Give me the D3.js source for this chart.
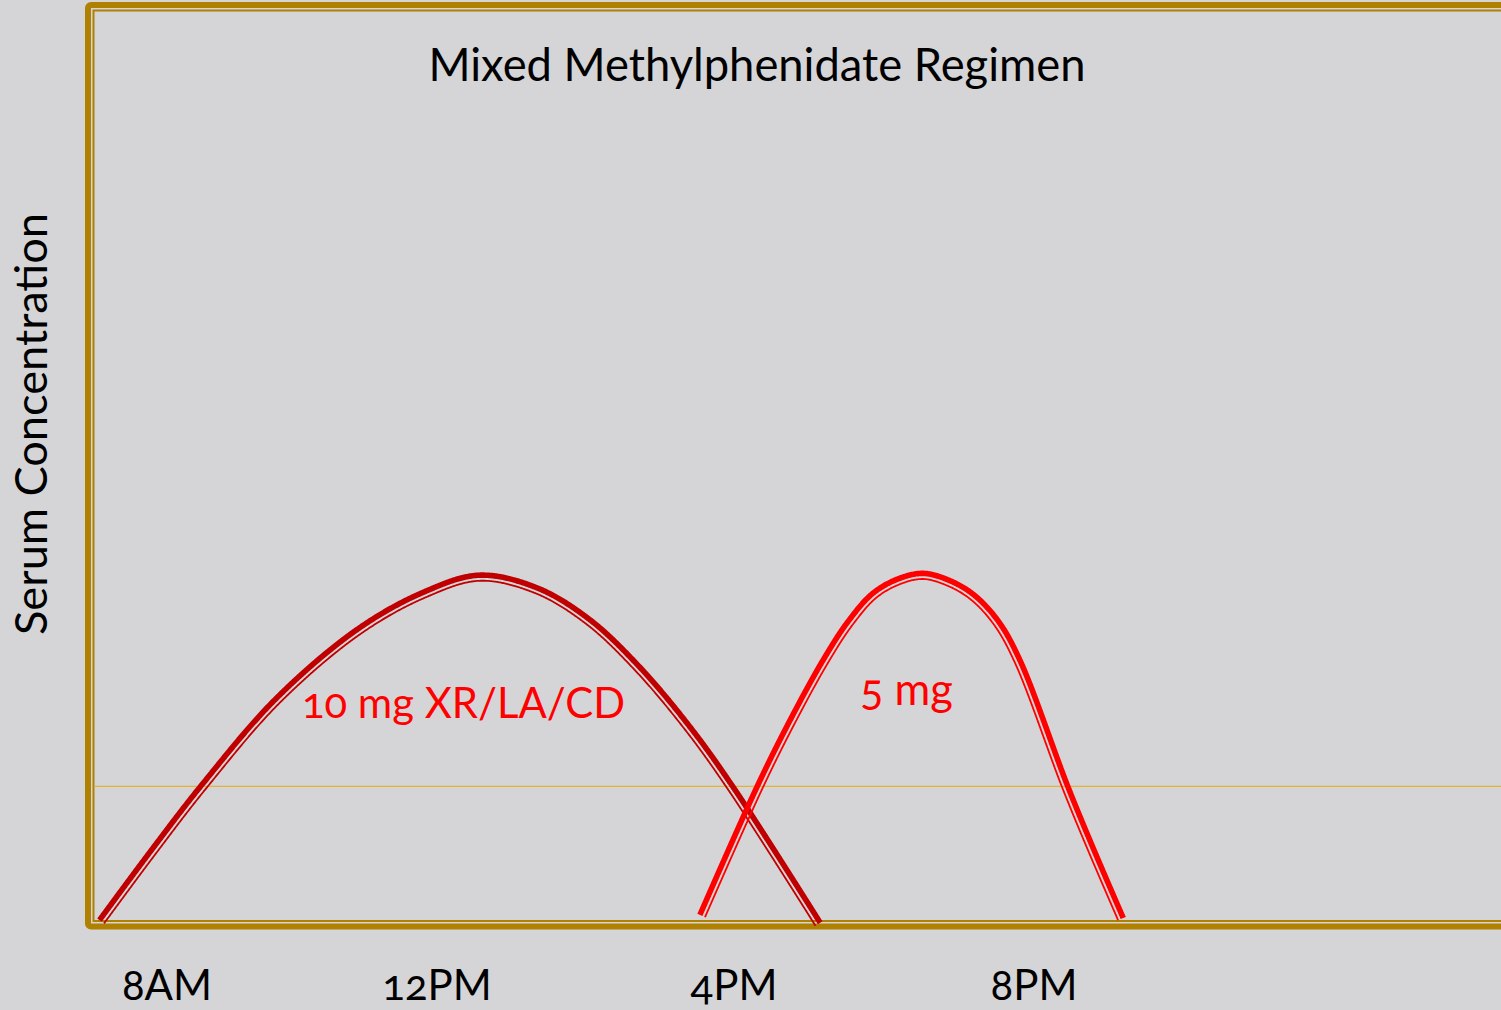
<!DOCTYPE html>
<html>
<head>
<meta charset="utf-8">
<script src="https://cdn.jsdelivr.net/npm/d3@7"></script>
<style>
  html, body { margin: 0; padding: 0; background: #d5d5d7; overflow: hidden; }
  svg { display: block; }
  .num { font-variant-numeric: oldstyle-nums; font-feature-settings: "onum" 1; }
</style>
</head>
<body>
<svg id="chart" width="1501" height="1010"></svg>
<script>
// ---------------- data ----------------
const chartTitle = "Mixed Methylphenidate Regimen";
const yAxisTitle = "Serum Concentration";
const xTickHours = [8, 12, 16, 20];
const xTickLabels = ["8AM", "12PM", "4PM", "8PM"];

const seriesNames = ["10 mg XR/LA/CD", "5 mg"];
// 10 mg XR/LA/CD curve (hour of day, relative serum concentration)
const xrHours  = [7.0, 7.75, 8.52, 9.61, 10.81, 11.79, 12.57, 13.35, 14.06, 14.73, 15.41, 15.99, 17.15];
const xrLevels = [0.1, 7.6, 15.0, 24.4, 32.0, 36.1, 38.0, 36.6, 33.1, 27.9, 21.3, 14.7, -0.2];
// 5 mg immediate-release curve
const irHours  = [15.54, 16.31, 16.75, 17.19, 17.52, 17.85, 18.19, 18.52, 18.85, 19.19, 19.52, 19.81, 20.45, 20.81, 21.19];
const irLevels = [0.66, 14.8, 22.1, 28.7, 32.9, 36.0, 37.6, 38.2, 37.5, 35.9, 33.0, 28.7, 14.8, 7.6, 0.33];

const thresholdLevel = 14.8;
// series label anchors (hour, level)
const labelHours  = [10.0, 17.68];
const labelLevels = [22.3, 23.7];

// ---------------- drawing ----------------
const svg = d3.select("#chart");
const W = 1501, H = 1010;
const gold = "#b08000";
const colors = ["#c00000", "#ff0000"];

svg.append("rect").attr("width", W).attr("height", H).attr("fill", "#d5d5d7");

const x = d3.scaleLinear().domain(xTickHours).range([167, 437, 734, 1034]);
const y = d3.scaleLinear().domain([0, 100]).range([921, 11]);

// frame (thick-thin compound border)
svg.append("rect")
  .attr("x", 88).attr("y", 5).attr("width", 1600).attr("height", y(0) + 5.5 - 5)
  .attr("rx", 3).attr("fill", "none").attr("stroke", gold).attr("stroke-width", 6);
svg.append("rect")
  .attr("x", 93.5).attr("y", 10.5).attr("width", 1600).attr("height", y(0) - 10.5)
  .attr("fill", "none").attr("stroke", gold).attr("stroke-width", 2);

// threshold line
svg.append("line")
  .attr("x1", 94).attr("x2", W)
  .attr("y1", y(thresholdLevel)).attr("y2", y(thresholdLevel))
  .attr("stroke", "#e2b23a").attr("stroke-width", 1.3);

// helper: offset a path along its normal
function offsetPath(d, off) {
  const tmp = svg.append("path").attr("d", d).attr("fill", "none").attr("stroke", "none");
  const node = tmp.node();
  const L = node.getTotalLength();
  const n = Math.ceil(L);
  const pts = [];
  for (let i = 0; i <= n; i++) {
    const t = L * i / n;
    const p = node.getPointAtLength(t);
    const p0 = node.getPointAtLength(Math.max(0, t - 1.5));
    const p1 = node.getPointAtLength(Math.min(L, t + 1.5));
    const dx = p1.x - p0.x, dy = p1.y - p0.y;
    const len = Math.hypot(dx, dy) || 1;
    pts.push([p.x + (dy / len) * off, p.y + (-dx / len) * off]);
  }
  tmp.remove();
  return d3.line()(pts);
}

const line = d3.line().x(d => x(d[0])).y(d => y(d[1])).curve(d3.curveCatmullRom.alpha(0.5));
const seriesData = [
  d3.zip(xrHours, xrLevels),
  d3.zip(irHours, irLevels)
];

seriesData.forEach((data, i) => {
  const d = line(data);
  const g = svg.append("g");
  g.append("path").attr("d", offsetPath(d, 0))
    .attr("fill", "none").attr("stroke", colors[i]).attr("stroke-width", 5.6);
  g.append("path").attr("d", offsetPath(d, -5.6))
    .attr("fill", "none").attr("stroke", colors[i]).attr("stroke-width", 1.8);
});

const font = "Lato, 'Open Sans', sans-serif";

// series labels
const labelSizes = [42, 44];
const labelWidths = [323, 93];
seriesNames.forEach((name, i) => {
  svg.append("text")
    .attr("class", "num")
    .attr("x", x(labelHours[i])).attr("y", y(labelLevels[i]))
    .attr("font-family", font).attr("font-size", labelSizes[i])
    .attr("fill", "#ff0000")
    .attr("textLength", labelWidths[i]).attr("lengthAdjust", "spacingAndGlyphs")
    .text(name);
});

// title
svg.append("text")
  .attr("x", 757).attr("y", 81)
  .attr("text-anchor", "middle")
  .attr("font-family", font).attr("font-size", 46).attr("fill", "#000")
  .attr("textLength", 657).attr("lengthAdjust", "spacingAndGlyphs")
  .text(chartTitle);

// y axis title
svg.append("text")
  .attr("transform", "translate(47,424) rotate(-90)")
  .attr("text-anchor", "middle")
  .attr("font-family", font).attr("font-size", 45).attr("fill", "#000")
  .attr("textLength", 422).attr("lengthAdjust", "spacingAndGlyphs")
  .text(yAxisTitle);

// x tick labels
svg.append("g").selectAll("text")
  .data(xTickHours)
  .join("text")
  .attr("class", "num")
  .attr("x", d => x(d)).attr("y", 1000)
  .attr("text-anchor", "middle")
  .attr("font-family", font).attr("font-size", 42).attr("fill", "#000")
  .text((d, i) => xTickLabels[i]);
</script>
</body>
</html>
